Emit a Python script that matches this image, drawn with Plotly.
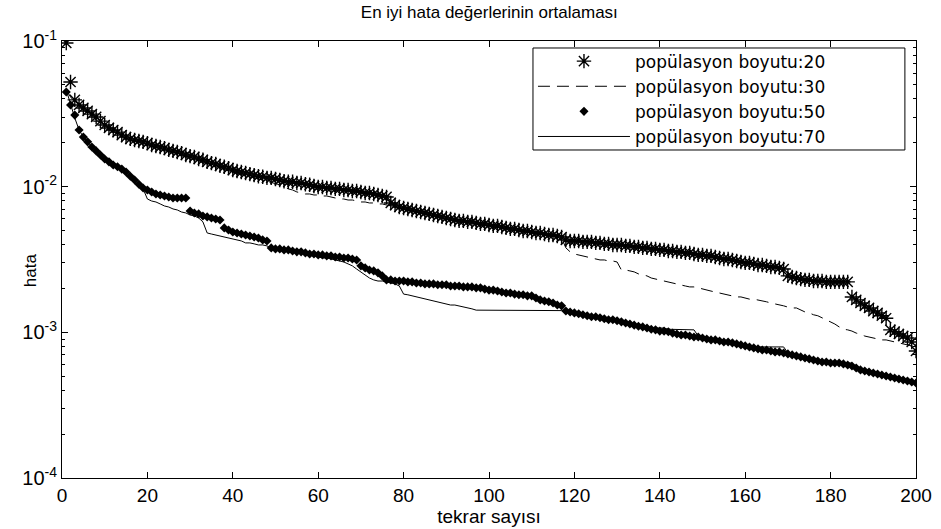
import plotly.graph_objects as go

# iteration index (tekrar sayısı)
tekrar = list(range(1, 201))

hata_20 = [
    0.097, 0.0523, 0.0394, 0.0364, 0.0347, 0.0331, 0.0315, 0.0301, 0.0282, 0.0265,
    0.0253, 0.0245, 0.0237, 0.0226, 0.0219, 0.0213, 0.0209, 0.0206, 0.0203, 0.0199,
    0.0193, 0.0190, 0.0187, 0.0184, 0.0179, 0.0176, 0.0173, 0.0170, 0.0165, 0.0162,
    0.0160, 0.0155, 0.0153, 0.0148, 0.0145, 0.0143, 0.0139, 0.0137, 0.0134, 0.0130,
    0.0128, 0.0126, 0.0124, 0.0122, 0.0120, 0.0118, 0.0117, 0.0115, 0.0115, 0.0113,
    0.0111, 0.0109, 0.0108, 0.0108, 0.0106, 0.0106, 0.0104, 0.0103, 0.0101, 0.00995,
    0.00995, 0.00980, 0.00980, 0.00965, 0.00965, 0.00949, 0.00949, 0.00934, 0.00934, 0.00920,
    0.00905, 0.00905, 0.00891, 0.00877, 0.00863, 0.00850, 0.00773, 0.00748, 0.00725, 0.00714,
    0.00703, 0.00692, 0.00681, 0.00670, 0.00660, 0.00650, 0.00639, 0.00629, 0.00620, 0.00610,
    0.00600, 0.00591, 0.00582, 0.00582, 0.00573, 0.00573, 0.00564, 0.00555, 0.00555, 0.00546,
    0.00538, 0.00538, 0.00529, 0.00521, 0.00513, 0.00513, 0.00504, 0.00496, 0.00496, 0.00488,
    0.00481, 0.00481, 0.00473, 0.00466, 0.00466, 0.00458, 0.00451, 0.00431, 0.00424, 0.00424,
    0.00424, 0.00418, 0.00418, 0.00418, 0.00411, 0.00411, 0.00405, 0.00405, 0.00398, 0.00398,
    0.00398, 0.00392, 0.00392, 0.00386, 0.00386, 0.00380, 0.00380, 0.00374, 0.00374, 0.00368,
    0.00368, 0.00362, 0.00362, 0.00357, 0.00357, 0.00351, 0.00351, 0.00345, 0.00340, 0.00340,
    0.00335, 0.00335, 0.00329, 0.00324, 0.00319, 0.00319, 0.00314, 0.00309, 0.00304, 0.00300,
    0.00300, 0.00295, 0.00290, 0.00290, 0.00286, 0.00281, 0.00281, 0.00277, 0.00272, 0.00244,
    0.00240, 0.00236, 0.00232, 0.00229, 0.00229, 0.00225, 0.00225, 0.00225, 0.00222, 0.00222,
    0.00222, 0.00222, 0.00222, 0.00222, 0.00175, 0.00167, 0.00159, 0.00152, 0.00147, 0.00140,
    0.00136, 0.00130, 0.00125, 0.00104, 0.00101, 0.000974, 0.000944, 0.000914, 0.000859, 0.000745,
]

hata_30 = [
    0.0461, 0.0413, 0.0382, 0.0358, 0.0336, 0.0320, 0.0301, 0.0287, 0.0274, 0.0257,
    0.0245, 0.0237, 0.0230, 0.0223, 0.0216, 0.0209, 0.0206, 0.0203, 0.0199, 0.0196,
    0.0190, 0.0187, 0.0184, 0.0179, 0.0176, 0.0173, 0.0170, 0.0165, 0.0162, 0.0160,
    0.0155, 0.0153, 0.0148, 0.0145, 0.0141, 0.0139, 0.0137, 0.0132, 0.0130, 0.0126,
    0.0124, 0.0122, 0.0120, 0.0117, 0.0115, 0.0113, 0.0111, 0.0109, 0.0108, 0.0106,
    0.0103, 0.00995, 0.00965, 0.00949, 0.00920, 0.00905, 0.00891, 0.00891, 0.00877, 0.00877,
    0.00863, 0.00863, 0.00850, 0.00836, 0.00823, 0.00823, 0.00810, 0.00810, 0.00797, 0.00785,
    0.00785, 0.00773, 0.00773, 0.00761, 0.00761, 0.00748, 0.00737, 0.00725, 0.00714, 0.00703,
    0.00692, 0.00681, 0.00670, 0.00660, 0.00650, 0.00639, 0.00629, 0.00620, 0.00610, 0.00600,
    0.00591, 0.00582, 0.00573, 0.00573, 0.00564, 0.00564, 0.00555, 0.00546, 0.00546, 0.00538,
    0.00529, 0.00529, 0.00521, 0.00513, 0.00504, 0.00504, 0.00496, 0.00488, 0.00488, 0.00481,
    0.00473, 0.00473, 0.00466, 0.00458, 0.00458, 0.00451, 0.00444, 0.00380, 0.00357, 0.00345,
    0.00340, 0.00335, 0.00329, 0.00324, 0.00319, 0.00314, 0.00314, 0.00309, 0.00309, 0.00304,
    0.00268, 0.00268, 0.00264, 0.00260, 0.00252, 0.00248, 0.00244, 0.00236, 0.00232, 0.00229,
    0.00225, 0.00222, 0.00218, 0.00215, 0.00212, 0.00208, 0.00205, 0.00205, 0.00202, 0.00198,
    0.00195, 0.00192, 0.00189, 0.00186, 0.00183, 0.00181, 0.00178, 0.00175, 0.00175, 0.00172,
    0.00169, 0.00169, 0.00167, 0.00164, 0.00162, 0.00159, 0.00157, 0.00154, 0.00152, 0.00149,
    0.00147, 0.00147, 0.00142, 0.00138, 0.00136, 0.00132, 0.00130, 0.00126, 0.00122, 0.00118,
    0.00114, 0.00109, 0.00105, 0.00104, 0.00102, 0.000988, 0.000973, 0.000943, 0.000929, 0.000914,
    0.000900, 0.000887, 0.000887, 0.000873, 0.000859, 0.000846, 0.000833, 0.000820, 0.000807, 0.000782,
]

hata_50 = [
    0.0447, 0.0364, 0.0310, 0.0245, 0.0219, 0.0203, 0.0187, 0.0176, 0.0165, 0.0155,
    0.0148, 0.0141, 0.0137, 0.0132, 0.0126, 0.0118, 0.0111, 0.0104, 0.00980, 0.00949,
    0.00920, 0.00891, 0.00877, 0.00863, 0.00850, 0.00836, 0.00836, 0.00836, 0.00836, 0.00681,
    0.00660, 0.00650, 0.00629, 0.00620, 0.00610, 0.00600, 0.00591, 0.00521, 0.00504, 0.00488,
    0.00481, 0.00473, 0.00466, 0.00458, 0.00451, 0.00444, 0.00431, 0.00424, 0.00380, 0.00374,
    0.00374, 0.00368, 0.00368, 0.00362, 0.00357, 0.00357, 0.00351, 0.00345, 0.00345, 0.00340,
    0.00340, 0.00335, 0.00335, 0.00329, 0.00329, 0.00324, 0.00324, 0.00319, 0.00314, 0.00286,
    0.00277, 0.00268, 0.00264, 0.00256, 0.00244, 0.00229, 0.00229, 0.00225, 0.00225, 0.00225,
    0.00222, 0.00222, 0.00218, 0.00218, 0.00215, 0.00215, 0.00215, 0.00212, 0.00212, 0.00212,
    0.00208, 0.00208, 0.00208, 0.00205, 0.00205, 0.00205, 0.00202, 0.00202, 0.00198, 0.00195,
    0.00195, 0.00192, 0.00189, 0.00186, 0.00186, 0.00183, 0.00181, 0.00181, 0.00178, 0.00178,
    0.00172, 0.00167, 0.00164, 0.00162, 0.00159, 0.00154, 0.00152, 0.00140, 0.00138, 0.00136,
    0.00134, 0.00132, 0.00130, 0.00128, 0.00128, 0.00126, 0.00124, 0.00122, 0.00122, 0.00120,
    0.00118, 0.00116, 0.00114, 0.00112, 0.00110, 0.00109, 0.00107, 0.00105, 0.00104, 0.00102,
    0.00102, 0.00101, 0.000988, 0.000973, 0.000958, 0.000958, 0.000943, 0.000929, 0.000929, 0.000914,
    0.000900, 0.000887, 0.000887, 0.000873, 0.000859, 0.000859, 0.000846, 0.000833, 0.000820, 0.000807,
    0.000794, 0.000782, 0.000770, 0.000757, 0.000757, 0.000745, 0.000734, 0.000734, 0.000722, 0.000711,
    0.000700, 0.000689, 0.000678, 0.000667, 0.000657, 0.000646, 0.000636, 0.000626, 0.000626, 0.000616,
    0.000616, 0.000616, 0.000607, 0.000597, 0.000588, 0.000569, 0.000552, 0.000543, 0.000534, 0.000526,
    0.000518, 0.000510, 0.000502, 0.000494, 0.000486, 0.000478, 0.000471, 0.000463, 0.000456, 0.000449,
]

hata_70 = [
    0.0461, 0.0364, 0.0296, 0.0245, 0.0219, 0.0203, 0.0187, 0.0176, 0.0165, 0.0155,
    0.0148, 0.0141, 0.0134, 0.0128, 0.0120, 0.0113, 0.0106, 0.0101, 0.00965, 0.00823,
    0.00797, 0.00785, 0.00761, 0.00737, 0.00725, 0.00703, 0.00692, 0.00670, 0.00660, 0.00639,
    0.00629, 0.00610, 0.00573, 0.00481, 0.00473, 0.00466, 0.00458, 0.00451, 0.00444, 0.00437,
    0.00431, 0.00424, 0.00411, 0.00411, 0.00405, 0.00398, 0.00398, 0.00392, 0.00380, 0.00374,
    0.00368, 0.00362, 0.00357, 0.00357, 0.00351, 0.00351, 0.00345, 0.00340, 0.00335, 0.00329,
    0.00324, 0.00324, 0.00319, 0.00314, 0.00309, 0.00304, 0.00295, 0.00286, 0.00272, 0.00260,
    0.00248, 0.00236, 0.00229, 0.00225, 0.00225, 0.00222, 0.00218, 0.00215, 0.00208, 0.00183,
    0.00181, 0.00178, 0.00175, 0.00172, 0.00169, 0.00167, 0.00164, 0.00162, 0.00159, 0.00157,
    0.00154, 0.00154, 0.00152, 0.00149, 0.00147, 0.00145, 0.00142, 0.00142, 0.00142, 0.00142,
    0.00142, 0.00142, 0.00142, 0.00142, 0.00142, 0.00142, 0.00142, 0.00142, 0.00141, 0.00141,
    0.00141, 0.00141, 0.00141, 0.00141, 0.00141, 0.00141, 0.00141, 0.00140, 0.00138, 0.00136,
    0.00134, 0.00132, 0.00130, 0.00128, 0.00128, 0.00126, 0.00124, 0.00122, 0.00122, 0.00120,
    0.00118, 0.00116, 0.00114, 0.00112, 0.00110, 0.00109, 0.00109, 0.00107, 0.00107, 0.00107,
    0.00107, 0.00105, 0.00105, 0.00105, 0.00104, 0.00104, 0.00104, 0.00104, 0.000943, 0.000929,
    0.000914, 0.000900, 0.000887, 0.000873, 0.000873, 0.000859, 0.000846, 0.000833, 0.000820, 0.000807,
    0.000807, 0.000807, 0.000794, 0.000794, 0.000794, 0.000794, 0.000794, 0.000794, 0.000794, 0.000722,
    0.000711, 0.000700, 0.000689, 0.000678, 0.000667, 0.000657, 0.000646, 0.000636, 0.000626, 0.000626,
    0.000626, 0.000616, 0.000616, 0.000616, 0.000616, 0.000569, 0.000560, 0.000552, 0.000543, 0.000534,
    0.000526, 0.000518, 0.000510, 0.000502, 0.000494, 0.000486, 0.000478, 0.000471, 0.000463, 0.000456,
]

series_names = [
    "popülasyon boyutu:20",
    "popülasyon boyutu:30",
    "popülasyon boyutu:50",
    "popülasyon boyutu:70",
]

x_ticks = [0, 20, 40, 60, 80, 100, 120, 140, 160, 180, 200]
y_ticks = [1e-4, 1e-3, 1e-2, 1e-1]
y_ticktext = ["10<sup>-4</sup>", "10<sup>-3</sup>", "10<sup>-2</sup>", "10<sup>-1</sup>"]
y_minor = [m * 10.0 ** e for e in (-4, -3, -2) for m in range(2, 10)]

FONT = "Liberation Sans, Arial, sans-serif"

fig = go.Figure()
fig.add_trace(go.Scatter(
    x=tekrar, y=hata_20, name=series_names[0], mode="markers",
    marker=dict(symbol="asterisk-open", size=12, color="black",
                line=dict(color="black", width=1.4)),
))
fig.add_trace(go.Scatter(
    x=tekrar, y=hata_30, name=series_names[1], mode="lines",
    line=dict(color="black", width=1, dash="12px,7px"),
))
fig.add_trace(go.Scatter(
    x=tekrar, y=hata_50, name=series_names[2], mode="markers",
    marker=dict(symbol="diamond", size=7, color="black", line=dict(width=0)),
))
fig.add_trace(go.Scatter(
    x=tekrar, y=hata_70, name=series_names[3], mode="lines",
    line=dict(color="black", width=1),
))

fig.update_layout(
    width=941, height=529,
    margin=dict(l=62, r=25, t=41, b=51),
    paper_bgcolor="white", plot_bgcolor="white",
    font=dict(family=FONT, color="black", size=15),
    title=dict(text="En iyi hata değerlerinin ortalaması", x=0.52, xanchor="center",
               y=0.977, yanchor="middle", yref="container",
               font=dict(family=FONT, size=17, color="black")),
    showlegend=True,
    legend=dict(x=0.5515, y=0.994, xanchor="left", yanchor="top",
                borderwidth=0, bgcolor="rgba(255,255,255,0)",
                font=dict(family="DejaVu Sans, sans-serif", size=17, color="black"),
                itemwidth=92, tracegroupgap=0),
    shapes=[dict(type="rect", xref="paper", yref="paper",
                 x0=0.5515, x1=0.987, y0=0.7506, y1=0.984,
                 line=dict(color="black", width=1), fillcolor="rgba(0,0,0,0)",
                 layer="above")],
    xaxis=dict(range=[0, 200], tickvals=x_ticks, ticks="inside", ticklen=6,
               tickcolor="black", showline=True, linecolor="black", linewidth=1,
               mirror="ticks", showgrid=False, zeroline=False, automargin=False,
               tickfont=dict(family=FONT, size=19),
               title=dict(text="tekrar sayısı", font=dict(family=FONT, size=19), standoff=2)),
    yaxis=dict(type="log", range=[-4, -1], tickvals=y_ticks, ticktext=y_ticktext,
               ticks="inside", ticklen=6, tickcolor="black", automargin=False,
               showline=True, linecolor="black", linewidth=1, mirror="ticks",
               showgrid=False, zeroline=False, tickfont=dict(family=FONT, size=20),
               minor=dict(tickvals=y_minor, ticks="inside", ticklen=3, tickcolor="black",
                          showgrid=False)),
    annotations=[dict(text="hata", xref="paper", yref="paper", x=-0.036, y=0.476,
                      textangle=-90, showarrow=False, xanchor="center", yanchor="middle",
                      font=dict(family=FONT, size=17, color="black"))],
)

fig.write_html("out.html")
